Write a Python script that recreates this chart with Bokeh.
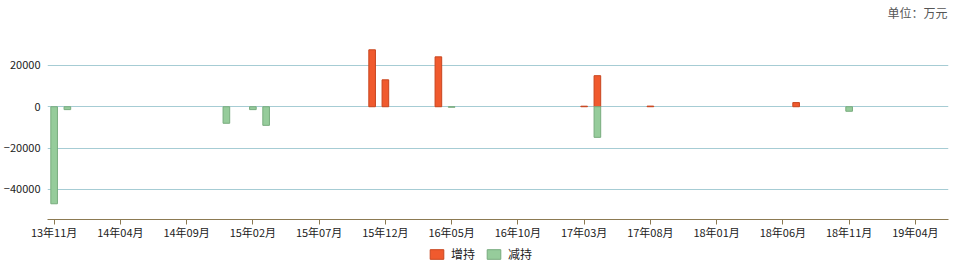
from bokeh.plotting import figure
from bokeh.layouts import column
from bokeh.models import Range1d, FixedTicker, Legend, LegendItem, ColumnDataSource, Label
from bokeh.embed import file_html
from bokeh.resources import INLINE

# Months from 2013-11 to 2019-06
months = []
y, m = 2013, 11
while (y, m) <= (2019, 6):
    months.append(f"{y % 100:02d}年{m:02d}月")
    m += 1
    if m > 12:
        m = 1
        y += 1

# 增持 (increase) values, 万元
inc_months = ["15年11月", "15年12月", "16年04月", "17年03月", "17年04月", "17年08月", "18年07月"]
inc_values = [27500, 13000, 24100, 250, 15000, 300, 2000]

# 减持 (decrease) values, 万元
dec_months = ["13年11月", "13年12月", "14年12月", "15年02月", "15年03月", "16年05月", "17年04月", "18年11月"]
dec_values = [-46900, -1400, -8000, -1400, -9000, -250, -14800, -2200]

tick_labels = months[::5]

FONT = "Noto Sans CJK SC"
INC_FILL, INC_LINE = "#F05A2E", "#C8461F"
DEC_FILL, DEC_LINE = "#96CC9B", "#78AC7E"

src_inc = ColumnDataSource(dict(x=[months.index(mm) for mm in inc_months], top=inc_values))
src_dec = ColumnDataSource(dict(x=[months.index(mm) for mm in dec_months], top=dec_values))

# top strip with unit text (frame aligned with main chart's frame: x 47..948)
p0 = figure(width=959, height=40, output_backend="svg", toolbar_location=None,
            x_axis_type=None, y_axis_type=None,
            x_range=Range1d(0, 1), y_range=Range1d(0, 1),
            min_border_left=47, min_border_right=11, min_border_top=0, min_border_bottom=0)
p0.outline_line_color = None
p0.grid.grid_line_color = None
p0.add_layout(Label(x=900, y=28, x_units="screen", y_units="screen", text="单位：万元",
                    text_align="right", text_baseline="middle", text_font=FONT,
                    text_font_size="12px", text_color="#555555"))

# main chart
p = figure(width=959, height=205, output_backend="svg", toolbar_location=None,
           x_range=Range1d(-0.5, len(months) - 0.5), y_range=Range1d(-54500, 32000),
           min_border_left=47, min_border_right=11, min_border_top=0, min_border_bottom=26)
p.outline_line_color = None
p.background_fill_color = "white"
p.border_fill_color = "white"

p.vbar(x="x", top="top", bottom=0, width=0.5, source=src_inc,
       fill_color=INC_FILL, line_color=INC_LINE, line_width=1)
p.vbar(x="x", top="top", bottom=0, width=0.5, source=src_dec,
       fill_color=DEC_FILL, line_color=DEC_LINE, line_width=1)

# x axis
p.xaxis.ticker = FixedTicker(ticks=list(range(0, len(months), 5)))
p.xaxis.major_label_overrides = {i * 5: lab for i, lab in enumerate(tick_labels)}
p.xaxis.axis_line_color = "#8C7A52"
p.xaxis.major_tick_line_color = "#8C7A52"
p.xaxis.major_tick_out = 5
p.xaxis.major_tick_in = 0
p.xaxis.minor_tick_line_color = None
p.xaxis.major_label_text_font = FONT
p.xaxis.major_label_text_font_size = "11px"
p.xaxis.major_label_text_color = "#222222"
p.xaxis.major_label_standoff = -1
p.xgrid.grid_line_color = None

# y axis
p.yaxis.ticker = FixedTicker(ticks=[-40000, -20000, 0, 20000])
p.yaxis.axis_line_color = None
p.yaxis.major_tick_line_color = None
p.yaxis.major_tick_out = 0
p.yaxis.major_tick_in = 0
p.yaxis.minor_tick_line_color = None
p.yaxis.major_label_text_font = FONT
p.yaxis.major_label_text_font_size = "11px"
p.yaxis.major_label_text_color = "#222222"
p.yaxis.major_label_standoff = 7
p.ygrid.grid_line_color = "#A6CCD4"
p.ygrid.grid_line_width = 1

# legend strip (its renderers share the data but sit far outside its view)
p2 = figure(width=959, height=33, output_backend="svg", toolbar_location=None,
            x_axis_type=None, y_axis_type=None,
            x_range=Range1d(-1000, -999), y_range=Range1d(1e7, 1e7 + 1),
            min_border_left=47, min_border_right=11, min_border_top=0, min_border_bottom=0)
p2.outline_line_color = None
p2.grid.grid_line_color = None
p2.border_fill_color = "white"
l_inc = p2.vbar(x="x", top="top", bottom=0, width=0.5, source=src_inc,
                fill_color=INC_FILL, line_color=INC_LINE)
l_dec = p2.vbar(x="x", top="top", bottom=0, width=0.5, source=src_dec,
                fill_color=DEC_FILL, line_color=DEC_LINE)

legend = Legend(items=[LegendItem(label="增持", renderers=[l_inc]),
                       LegendItem(label="减持", renderers=[l_dec])],
                orientation="horizontal", location=(381, 16),
                glyph_width=17, glyph_height=12, label_standoff=6, spacing=10,
                padding=0, margin=0, border_line_color=None, background_fill_alpha=0,
                label_text_font=FONT, label_text_font_size="12px", label_text_color="#222222",
                label_height=12)
p2.add_layout(legend, "center")

layout = column(p0, p, p2, spacing=0)
open("out.html", "w").write(file_html(layout, INLINE))
